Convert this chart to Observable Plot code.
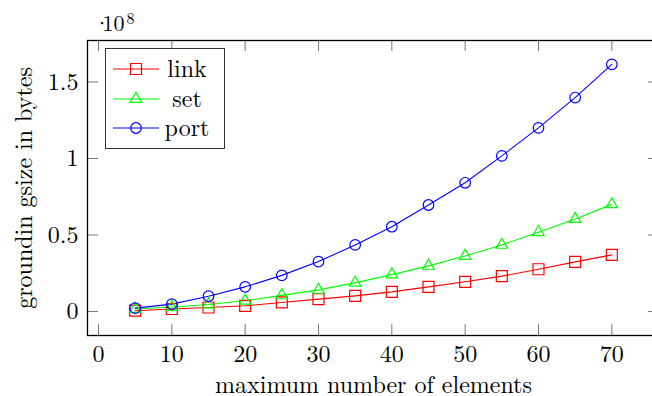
<!DOCTYPE html>
<html><head><meta charset="utf-8">
<script src="https://cdn.jsdelivr.net/npm/d3@7"></script>
<script src="https://cdn.jsdelivr.net/npm/@observablehq/plot@0.6"></script>
<style>
body{margin:0;overflow:hidden;background:#fff}
#wrap{position:relative;width:652px;height:396px;overflow:hidden}
#wrap svg text{font-family:"Latin Modern Roman","Liberation Serif",serif}
#legend{position:absolute;left:0;top:0;pointer-events:none}
</style>
</head><body><div id="wrap"></div>
<script>
// data (y values in units of 10^8 bytes)
const elements = [5,10,15,20,25,30,35,40,45,50,55,60,65,70];
const link = [0.005,0.016,0.026,0.037,0.059,0.081,0.102,0.128,0.161,0.194,0.231,0.276,0.324,0.370];
const set  = [0.016,0.029,0.046,0.070,0.105,0.141,0.187,0.241,0.298,0.363,0.435,0.518,0.604,0.700];
const port = [0.022,0.048,0.100,0.161,0.236,0.326,0.435,0.554,0.696,0.841,1.017,1.200,1.398,1.615];
const unit = 1e8;
const seriesNames = ["link","set","port"];
const seriesColors = ["#ff0000","#00ff00","#0000ff"];
const xTicks = [0,10,20,30,40,50,60,70];
const yTicks = [0,0.5,1,1.5];
const yTickLabels = ["0","0.5","1","1.5"];

const seriesValues = [link,set,port];
const rows = seriesNames.flatMap((s,i)=>elements.map((x,j)=>({series:s,x,y:seriesValues[i][j]*unit})));

const W=652,H=396,mL=87,mR=-7,mT=40,mB=61;
const plotW=W-mL-mR, plotH=H-mT-mB, tk=11;
const FS=24;
const yT = yTicks.map(v=>v*unit);

const symbols = {link:"square", set:"triangle", port:"circle"};
const radii = {link:6.2, set:4.3, port:5.3};

const chart = Plot.plot({
  width:W,height:H,marginLeft:mL,marginRight:mR,marginTop:mT,marginBottom:mB,
  style:{color:"#000",background:"#fff"},
  x:{domain:[-1.5,76.5]},
  y:{domain:[-0.157*unit,1.771*unit]},
  color:{domain:seriesNames,range:seriesColors},
  marks:[
    Plot.tickX(xTicks,{x:d=>d,insetTop:plotH-tk,stroke:"#777",strokeWidth:1}),
    Plot.tickX(xTicks,{x:d=>d,insetBottom:plotH-tk,stroke:"#777",strokeWidth:1}),
    Plot.tickY(yT,{y:d=>d,insetRight:plotW-tk,stroke:"#777",strokeWidth:1}),
    Plot.tickY(yT,{y:d=>d,insetLeft:plotW-tk,stroke:"#777",strokeWidth:1}),
    Plot.axisX(xTicks,{tickSize:0,tickPadding:9,label:null,fontSize:FS}),
    Plot.axisY(yT,{tickSize:0,tickPadding:9,label:null,fontSize:FS,tickFormat:d=>yTickLabels[yT.indexOf(d)]}),
    Plot.line(rows,{x:"x",y:"y",z:"series",stroke:"series",strokeWidth:1.1}),
    ...seriesNames.map(s=>Plot.dot(rows.filter(d=>d.series===s),{x:"x",y:"y",stroke:"series",fill:"none",symbol:()=>symbols[s],r:radii[s],strokeWidth:1.2})),
    Plot.frame({stroke:"#000",strokeWidth:1.3}),
    Plot.text(["maximum number of elements"],{text:d=>d,frameAnchor:"bottom",dy:57,lineAnchor:"bottom",textAnchor:"middle",fontSize:FS}),
    Plot.text(["groundin gsize in bytes"],{text:d=>d,frameAnchor:"left",rotate:-90,dx:-63,textAnchor:"middle",lineAnchor:"middle",fontSize:FS}),
    Plot.text(["·"],{text:d=>d,frameAnchor:"top-left",dx:6,dy:-10,textAnchor:"start",lineAnchor:"bottom",fontSize:22}),
    Plot.text(["10"],{text:d=>d,frameAnchor:"top-left",dx:15,dy:-10,textAnchor:"start",lineAnchor:"bottom",fontSize:22}),
    Plot.text(["8"],{text:d=>d,frameAnchor:"top-left",dx:39,dy:-17,textAnchor:"start",lineAnchor:"bottom",fontSize:16})
  ]
});
const wrap=document.getElementById("wrap");
wrap.appendChild(chart);

// legend overlay
const lg = d3.select(wrap).append("svg").attr("id","legend").attr("width",W).attr("height",H);
lg.append("rect").attr("x",105.5).attr("y",48.5).attr("width",119).attr("height",100)
  .attr("fill","white").attr("stroke","#333").attr("stroke-width",1);
const rowY=[69,99,128];
seriesNames.forEach((s,i)=>{
  const y=rowY[i], c=seriesColors[i];
  lg.append("line").attr("x1",113).attr("x2",159).attr("y1",y).attr("y2",y).attr("stroke",c).attr("stroke-width",1.1);
  const sym = {square:d3.symbolSquare,triangle:d3.symbolTriangle,circle:d3.symbolCircle}[symbols[s]];
  lg.append("path").attr("d",d3.symbol(sym,Math.PI*radii[s]*radii[s])()).attr("transform",`translate(136,${y})`)
    .attr("fill","none").attr("stroke",c).attr("stroke-width",1.2);
  lg.append("text").attr("x",187).attr("y",y).attr("dy","0.32em").attr("text-anchor","middle")
    .attr("font-size",FS).text(s);
});
</script></body></html>
